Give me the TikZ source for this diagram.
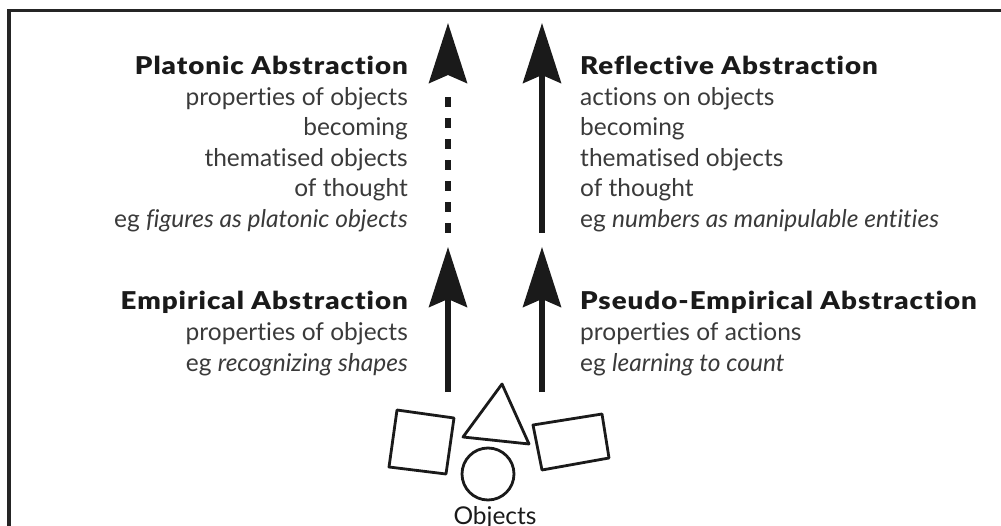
\documentclass[tikz,border=0pt]{standalone}
\usepackage{fontspec}
\setmainfont{Lato}[Ligatures=NoCommon]
\newfontfamily\ttlfont{Lato Black}[Ligatures=NoCommon,LetterSpace=4,FakeStretch=1.13]
\usetikzlibrary{arrows.meta}
\definecolor{ink}{HTML}{1A1A1A}
\definecolor{txt}{HTML}{3A3A3A}
\tikzset{
  lbl/.style={inner sep=0pt,text=txt,font=\fontsize{24.5}{29}\selectfont},
  ttl/.style={inner sep=0pt,text=ink,font=\fontsize{24.5}{29}\ttlfont},
  shaft/.style={line width=5.5pt,ink,-{Stealth[length=60pt,width=38pt,inset=8pt]}},
  dots/.style={shaft,dash pattern=on 10pt off 11pt on 10pt off 11pt on 10pt off 11pt on 10pt off 11pt on 10pt off 11pt on 10pt off 11pt on 10pt off 60pt},
  obj/.style={line width=2.8pt,ink,fill=white,line join=round}
}
\begin{document}
\begin{tikzpicture}[x=1pt,y=-1pt]
	\useasboundingbox (0,0) rectangle (1001,526);
	\draw[line width=3.5pt,ink!95] (9,526) -- (9,10.5) -- (1001,10.5);
	\node[ttl,anchor=base east] (pla) at (408,75) {Platonic Abstraction};
	\foreach \t [count=\i] in {properties of objects,becoming,thematised objects,of thought,{eg \textit{figures as platonic objects}}}
		\node[lbl,anchor=base east] (pla\i) at (408,75+30.5*\i) {\t};
	\node[ttl,anchor=base west] (ref) at (580,75) {Reflective Abstraction};
	\foreach \t [count=\i] in {actions on objects,becoming,thematised objects,of thought,{eg \textit{numbers as manipulable entities}}}
		\node[lbl,anchor=base west] (ref\i) at (580,75+30.5*\i) {\t};
	\node[ttl,anchor=base east] (emp) at (408,310) {Empirical Abstraction};
	\foreach \t [count=\i] in {properties of objects,{eg \textit{recognizing shapes}}}
		\node[lbl,anchor=base east] (emp\i) at (408,310+30.5*\i) {\t};
	\node[ttl,anchor=base west] (pse) at (580,310) {Pseudo-Empirical Abstraction};
	\foreach \t [count=\i] in {properties of actions,{eg \textit{learning to count}}}
		\node[lbl,anchor=base west] (pse\i) at (580,310+30.5*\i) {\t};
	\coordinate (el) at (448,392); \coordinate (eh) at (448,247);
	\coordinate (pl) at (542,392); \coordinate (ph) at (542,247);
	\coordinate (tl) at (448,233); \coordinate (th) at (448,23);
	\coordinate (rl) at (542,233); \coordinate (rh) at (542,23);
	\draw[shaft] (el) -- (eh);
	\draw[shaft] (pl) -- (ph);
	\draw[dots] (tl) -- (th);
	\draw[shaft] (rl) -- (rh);
	\draw[obj] (397,410) -- (454,418) -- (446,474) -- (389,467) -- cycle;
	\draw[obj] (502,384) -- (463,437) -- (529,444) -- cycle;
	\draw[obj] (533,425) -- (602,414) -- (609,458) -- (542,470) -- cycle;
	\draw[obj] (488,474) circle (26);
	\node[lbl,text=ink,anchor=base] (obj) at (495,524) {Objects};
\end{tikzpicture}
\end{document}
